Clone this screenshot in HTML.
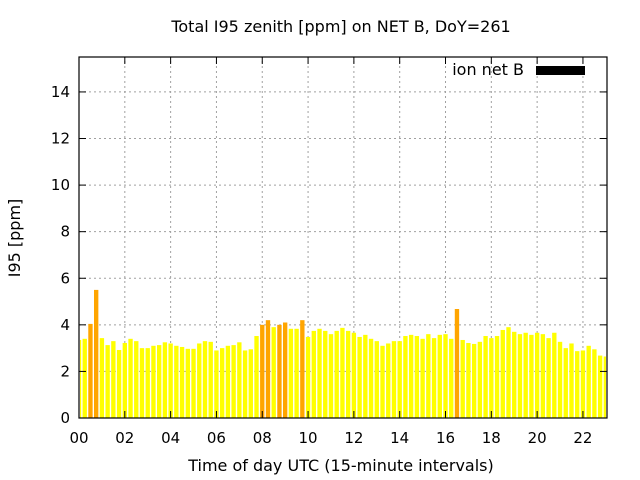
<!DOCTYPE html>
<html><head><meta charset="utf-8"><style>
html,body{margin:0;padding:0;background:#fff;}
svg{display:block;font-family:"DejaVu Sans","Liberation Sans",sans-serif;}
</style></head><body>
<svg id="chart" width="640" height="480" viewBox="0 0 640 480">
<text x="341" y="32" font-size="16" text-anchor="middle">Total I95 zenith [ppm] on NET B, DoY=261</text>
<text transform="translate(20,238) rotate(-90)" font-size="16" text-anchor="middle">I95 [ppm]</text>
<text x="341" y="471" font-size="16" text-anchor="middle">Time of day UTC (15-minute intervals)</text>
<g id="grid"></g>
<g id="bars"></g>
<g id="axes"></g>
<text x="524" y="75" font-size="16" text-anchor="end">ion net B</text>
<rect x="536" y="66" width="49" height="9" fill="#000"/>
</svg>
<script>
const values = [3.35,3.4,4.04,5.5,3.43,3.13,3.3,2.92,3.22,3.4,3.3,3.0,3.0,3.1,3.13,3.25,3.2,3.1,3.05,2.97,2.97,3.2,3.3,3.27,2.9,3.0,3.1,3.13,3.25,2.9,2.95,
3.52,4.0,4.2,3.9,4.0,4.1,3.83,3.83,4.2,3.48,3.74,3.83,3.74,3.6,3.74,3.87,3.74,3.66,3.48,3.57,3.4,3.3,3.1,3.2,3.3,3.3,3.52,3.57,3.52,3.4,3.6,
3.43,3.57,3.6,3.4,4.68,3.35,3.22,3.18,3.27,3.52,3.43,3.52,3.78,3.9,3.7,3.6,3.66,3.57,3.66,3.6,3.43,3.66,3.27,3.0,3.2,2.87,2.9,3.1,2.95,2.68,2.64];
const threshold = 4;
const yTicks = [0,2,4,6,8,10,12,14];
const xTicks = ["00","02","04","06","08","10","12","14","16","18","20","22"];
const X0=79,X1=607,Y0=418,Y1=57,XMAX=23.05,YMAX=15.5;
const sx=h=>X0+(X1-X0)*h/XMAX;
const sy=v=>Y0-(Y0-Y1)*v/YMAX;
const NS="http://www.w3.org/2000/svg";
function mk(t,a,p){const e=document.createElementNS(NS,t);for(const k in a)e.setAttribute(k,a[k]);p.appendChild(e);return e;}
const grid=document.getElementById('grid'),bars=document.getElementById('bars'),axes=document.getElementById('axes');
yTicks.forEach(v=>{const y=sy(v);
 if(v>0){const l=mk('line',{x1:X0,x2:X1,y1:y,y2:y,stroke:'#a0a0a0','stroke-dasharray':'2,3'},grid);
 }
 const t=mk('text',{x:X0-9,y:y+5,'font-size':15,'text-anchor':'end'},axes);t.textContent=v;
 
 mk('line',{x1:X0,x2:X0+7,y1:y,y2:y,stroke:'#000'},axes);mk('line',{x1:X1,x2:X1-7,y1:y,y2:y,stroke:'#000'},axes);
});
xTicks.forEach(s=>{const x=sx(+s);
 if(+s>0){const l=mk('line',{x1:x,x2:x,y1:Y0,y2:Y1,stroke:'#a0a0a0','stroke-dasharray':'2,3'},grid);
 }
 const t=mk('text',{x:x,y:Y0+25,'font-size':15,'text-anchor':'middle'},axes);t.textContent=s;
 
 mk('line',{x1:x,x2:x,y1:Y0,y2:Y0-7,stroke:'#000'},axes);mk('line',{x1:x,x2:x,y1:Y1,y2:Y1+7,stroke:'#000'},axes);
});
const bw=0.19;
values.forEach((v,i)=>{const h=i*0.25;let a=Math.max(sx(h-bw/2),X0+1),b=Math.min(sx(h+bw/2),X1-1);
 const r=mk('rect',{x:a,y:sy(v),width:Math.max(0,b-a),height:Y0-sy(v),fill:v>=threshold?'#ffa500':'#ffff00'},bars);
 
});
const f=mk('rect',{x:X0,y:Y1,width:X1-X0,height:Y0-Y1,fill:'none',stroke:'#000','stroke-width':1.2},axes);

</script>
</body></html>
